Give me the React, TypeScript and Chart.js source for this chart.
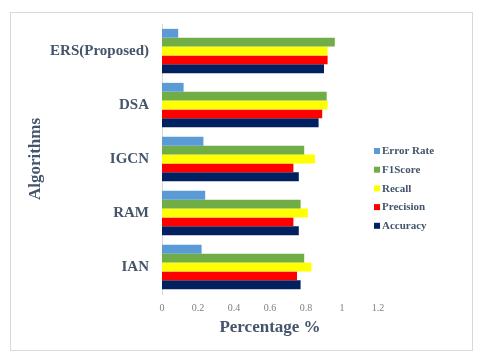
import React, { useEffect, useRef } from "react";
import { Chart, registerables } from "chart.js";
Chart.register(...registerables);

const categories = ["ERS(Proposed)", "DSA", "IGCN", "RAM", "IAN"];
const seriesNames = ["Error Rate", "F1Score", "Recall", "Precision", "Accuracy"];
const errorRate = [0.09, 0.12, 0.23, 0.24, 0.22];
const f1Score = [0.96, 0.915, 0.79, 0.77, 0.79];
const recall = [0.92, 0.92, 0.85, 0.81, 0.83];
const precision = [0.92, 0.89, 0.73, 0.73, 0.75];
const accuracy = [0.9, 0.87, 0.76, 0.76, 0.77];
const xTicks = [0, 0.2, 0.4, 0.6, 0.8, 1, 1.2];
const colors = ["#5b9bd5", "#70ad47", "#ffff00", "#ff0000", "#002060"];

const SERIF = "'Liberation Serif', 'Times New Roman', serif";
const TEXT = "#44546a";

const framePlugin = {
  id: "frame",
  beforeDraw(chart: any) {
    const ctx = chart.ctx;
    ctx.save();
    ctx.fillStyle = "#ffffff";
    ctx.fillRect(0, 0, chart.width, chart.height);
    ctx.strokeStyle = "#d9d9d9";
    ctx.lineWidth = 1;
    ctx.strokeRect(10.5, 12.5, 462, 338);
    ctx.restore();
  },
};

const legendPlugin = {
  id: "customLegend",
  afterDraw(chart: any) {
    const ctx = chart.ctx;
    ctx.save();
    ctx.font = `bold 11px ${SERIF}`;
    ctx.textBaseline = "middle";
    ctx.textAlign = "left";
    chart.data.datasets.forEach((ds: any, i: number) => {
      const y = 151 + i * 18.7;
      ctx.fillStyle = ds.backgroundColor;
      ctx.fillRect(374, y - 3, 6, 6);
      ctx.fillStyle = TEXT;
      ctx.fillText(ds.label, 382, y + 0.5);
    });
    ctx.restore();
  },
};

export default function App() {
  const ref = useRef<HTMLCanvasElement>(null);
  useEffect(() => {
    if (!ref.current) return;
    const values = [errorRate, f1Score, recall, precision, accuracy];
    const chart = new Chart(ref.current, {
      type: "bar",
      data: {
        labels: categories,
        datasets: seriesNames.map((name, i) => ({
          label: name,
          data: values[i],
          backgroundColor: colors[i],
          borderWidth: 0,
          categoryPercentage: 0.82,
          barPercentage: 1,
        })),
      },
      options: {
        indexAxis: "y",
        responsive: false,
        animation: false,
        layout: { padding: { left: 25, right: 102, top: 24, bottom: 22 } },
        plugins: { legend: { display: false }, tooltip: { enabled: false } },
        scales: {
          x: {
            min: 0,
            max: 1.2,
            afterBuildTicks: (s: any) => {
              s.ticks = xTicks.map((v) => ({ value: v }));
            },
            afterFit: (s: any) => {
              s.height = 44;
            },
            grid: { display: false, drawTicks: false },
            border: { display: false },
            ticks: {
              padding: 8,
              color: "#7f7f7f",
              font: { family: SERIF, size: 10 },
              callback: (v: any) => String(Math.round(Number(v) * 10) / 10),
            },
            title: {
              display: true,
              text: "Percentage %",
              color: TEXT,
              font: { family: SERIF, size: 17, weight: "bold" },
              padding: 0,
            },
          },
          y: {
            afterFit: (s: any) => {
              s.width = 137;
            },
            grid: { display: false, drawTicks: false },
            border: { display: true, color: "#d9d9d9", width: 1 },
            ticks: {
              padding: 13,
              color: TEXT,
              font: { family: SERIF, size: 15, weight: "bold" },
            },
            title: {
              display: true,
              text: "Algorithms",
              color: TEXT,
              font: { family: SERIF, size: 17, weight: "bold" },
              padding: 0,
            },
          },
        },
      },
      plugins: [framePlugin, legendPlugin],
    } as any);
    return () => chart.destroy();
  }, []);
  return (
    <div style={{ position: "absolute", left: 0, top: 0, width: 480, height: 360 }}>
      <canvas ref={ref} width={480} height={360} />
    </div>
  );
}
